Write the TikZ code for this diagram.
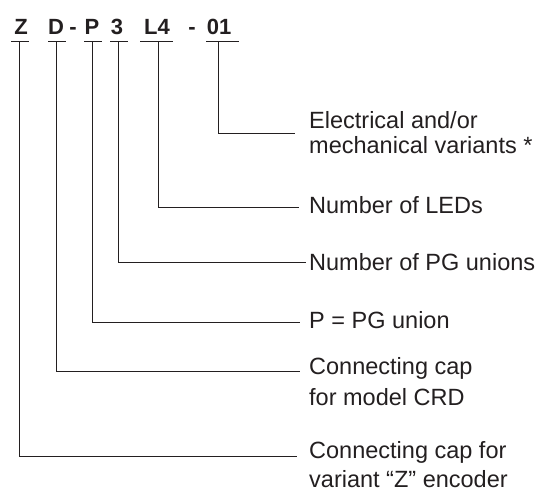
\documentclass[tikz,border=0pt]{standalone}
\usepackage{fontspec}
\setmainfont{Liberation Sans}
\definecolor{ink}{HTML}{231F20}
\begin{document}
\begin{tikzpicture}[x=1pt,y=-1pt,
  code/.style={font=\fontsize{22}{22}\selectfont\bfseries, text=ink, inner sep=0pt, anchor=base},
  lbl/.style={font=\fontsize{23.5}{27}\selectfont, text=ink, inner sep=0pt, anchor=base west, align=left},
  bar/.style={draw=ink, line width=0.9pt},
  lead/.style={draw=ink, line width=0.9pt}]
\useasboundingbox (0,0) rectangle (540,491);
% code letters
\node[code] (cZ) at (21,34) {Z};
\node[code] (cD) at (56,34) {D};
\node[code] (cd1) at (73,34) {-};
\node[code] (cP) at (92,34) {P};
\node[code] (c3) at (117,34) {3};
\node[code] (cL) at (157,34) {L4};
\node[code] (cd2) at (192,34) {-};
\node[code] (c01) at (219,34) {01};
% bars
\draw[bar] (11,41) -- (29,41);
\draw[bar] (48,41) -- (66,41);
\draw[bar] (84,41) -- (102,41);
\draw[bar] (110,41) -- (128,41);
\draw[bar] (140,41) -- (173,41);
\draw[bar] (206,41) -- (239,41);
% stem start points
\coordinate (sZ) at (19,41);
\coordinate (sD) at (56,41);
\coordinate (sP) at (92,41);
\coordinate (s3) at (118,41);
\coordinate (sL) at (158,41);
\coordinate (s01) at (218,41);
% lead end points
\coordinate (e01) at (295,133);
\coordinate (eL) at (299,207);
\coordinate (e3) at (306,262);
\coordinate (eP) at (300,322);
\coordinate (eD) at (300,371);
\coordinate (eZ) at (297,456);
% labels (base = baseline of last line)
\node[lbl, font=\fontsize{23.5}{25}\selectfont] (t01) at (309,153) {Electrical and/or\\mechanical variants *};
\node[lbl] (tL) at (309,213) {Number of LEDs};
\node[lbl] (t3) at (309,270) {Number of PG unions};
\node[lbl] (tP) at (309,328) {P = PG union};
\node[lbl, font=\fontsize{23.5}{31}\selectfont] (tD) at (309,405) {Connecting cap\\for model CRD};
\node[lbl, font=\fontsize{23.5}{29}\selectfont] (tZ) at (309,487) {Connecting cap for\\variant “Z” encoder};
% leads
\draw[lead] (s01) |- (e01);
\draw[lead] (sL) |- (eL);
\draw[lead] (s3) |- (e3);
\draw[lead] (sP) |- (eP);
\draw[lead] (sD) |- (eD);
\draw[lead] (sZ) |- (eZ);
\end{tikzpicture}
\end{document}
